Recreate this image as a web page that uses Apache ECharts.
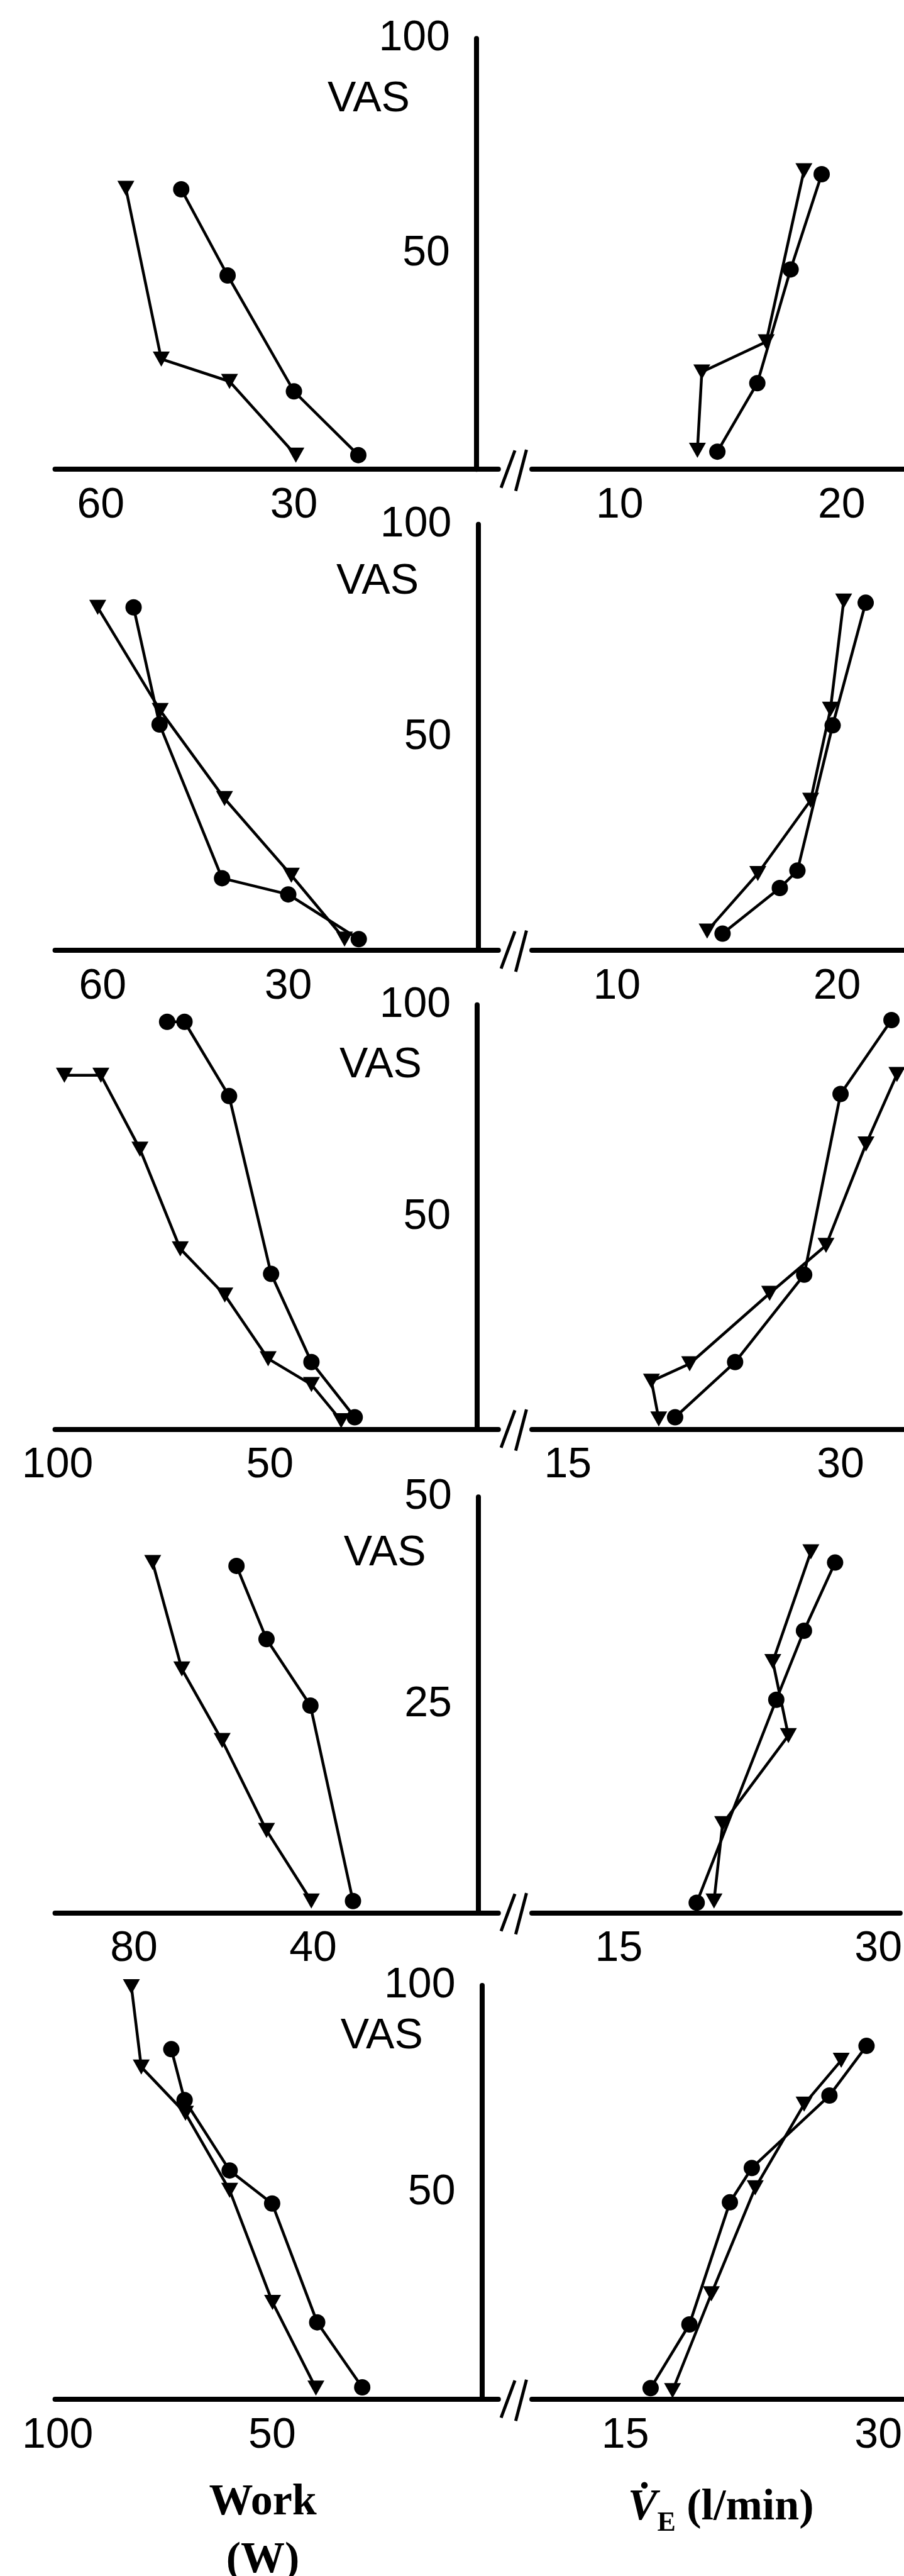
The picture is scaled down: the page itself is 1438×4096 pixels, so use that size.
<!DOCTYPE html>
<html>
<head>
<meta charset="utf-8">
<script src="https://cdn.jsdelivr.net/npm/echarts@6/dist/echarts.min.js"></script>
<style>
  html, body { margin: 0; padding: 0; background: #fff; }
  #chart { width: 1438px; height: 4096px; }
</style>
</head>
<body>
<div id="chart"></div>
<script>
// tick labels, panels top to bottom
const workTicks = [[30, 60], [30, 60], [50, 100], [40, 80], [50, 100]]
const veTicks = [[10, 20], [10, 20], [15, 30], [15, 30], [15, 30]]
const vasTicks = [[50, 100], [50, 100], [50, 100], [25, 50], [50, 100]]

// points are [value, VAS]; ▼ = triangles, ● = circles
const work1Tri = [[56.1, 65.2], [50.6, 25.6], [40.0, 20.4], [29.7, 3.3]]
const work1Circ = [[47.5, 65.0], [40.3, 45.0], [30.0, 18.1], [20.0, 3.3]]
const ve1Tri = [[18.3, 69.3], [16.6, 29.6], [13.7, 22.6], [13.5, 4.4]]
const ve1Circ = [[19.1, 68.5], [17.7, 46.4], [16.2, 20.0], [14.4, 4.1]]

const work2Tri = [[60.8, 80.5], [50.7, 56.3], [40.3, 35.6], [29.5, 17.6], [20.9, 2.6]]
const work2Circ = [[55.0, 80.5], [50.8, 53.0], [40.7, 16.9], [30.0, 13.1], [18.6, 2.6]]
const ve2Tri = [[20.3, 82.0], [19.7, 56.6], [18.8, 35.2], [16.4, 18.0], [14.1, 4.5]]
const ve2Circ = [[21.3, 81.6], [19.8, 52.8], [18.2, 18.7], [17.4, 14.6], [14.8, 3.9]]

const work3Tri = [[98.4, 83.4], [89.8, 83.4], [80.6, 66.0], [71.1, 42.5], [60.6, 31.6], [50.4, 16.6], [40.2, 10.5], [33.2, 2.0]]
const work3Circ = [[74.2, 96.0], [70.1, 96.0], [59.6, 78.5], [49.7, 36.6], [40.2, 15.8], [30.0, 2.8]]
const ve3Tri = [[20.0, 2.4], [19.6, 11.3], [21.7, 15.4], [26.1, 32.0], [29.2, 43.3], [31.4, 67.2], [33.1, 83.6]]
const ve3Circ = [[20.9, 2.8], [24.2, 15.8], [28.0, 36.4], [30.0, 79.0], [32.8, 96.4]]

const work4Tri = [[75.8, 42.1], [69.3, 29.3], [60.3, 20.7], [50.4, 9.9], [40.4, 1.4]]
const work4Circ = [[57.1, 41.7], [50.4, 32.9], [40.6, 24.9], [31.1, 1.4]]
const ve4Tri = [[26.1, 43.4], [23.9, 30.2], [24.8, 21.3], [21.0, 10.7], [20.5, 1.4]]
const ve4Circ = [[27.5, 42.1], [25.7, 33.9], [24.1, 25.6], [19.5, 1.2]]

const work5Tri = [[82.8, 99.7], [80.5, 80.3], [70.2, 69.1], [59.9, 50.5], [49.9, 23.4], [39.8, 2.7]]
const work5Circ = [[73.5, 84.6], [70.4, 72.3], [59.9, 55.3], [50.0, 47.3], [39.5, 18.6], [29.0, 2.9]]
const ve5Tri = [[27.8, 81.9], [25.6, 71.3], [22.7, 51.1], [20.1, 25.5], [17.8, 2.1]]
const ve5Circ = [[29.3, 85.4], [27.1, 73.4], [22.5, 55.9], [21.2, 47.6], [18.8, 18.1], [16.5, 2.7]]

const workTri = [work1Tri, work2Tri, work3Tri, work4Tri, work5Tri]
const workCirc = [work1Circ, work2Circ, work3Circ, work4Circ, work5Circ]
const veTri = [ve1Tri, ve2Tri, ve3Tri, ve4Tri, ve5Tri]
const veCirc = [ve1Circ, ve2Circ, ve3Circ, ve4Circ, ve5Circ]

// axis extents
const vasMax = [100, 100, 100, 50, 100]
const workRange = [[-1.75, 67.1], [-3.97, 67.7], [-3.84, 100.6], [-1.35, 97.6], [-2.73, 100.6]]
const veRange = [[6.04, 22.81], [6.14, 23.04], [13.02, 33.49], [9.97, 31.26], [9.46, 31.47]]

// layout, in pixels of the 2349 wide original
const S = 1438 / 2349
const LEFT_X0 = 143
const LEFT_X1 = 1295
const RIGHT_X0 = 1382
const RIGHT_X1 = 2349
const panelTop = [100, 1362, 2610, 3888, 5157]
const panelBottom = [1219, 2468, 3712, 4968, 6232]
const vasLineX = [1238, 1242, 1240, 1243, 1252]
const vasTextPos = [[958, 259], [981, 1511], [989, 2768], [1000, 4035], [992, 5289]]

const BLACK = '#000'
const sansLabel = { color: BLACK, fontFamily: 'Liberation Sans', fontSize: 68 }
const axisLine = { show: true, onZero: false, lineStyle: { color: BLACK, width: 8 } }

const grid = []
const xAxis = []
const yAxis = []
const series = []
const graphic = []

const lineSeries = (data, idx, mark) => ({
  type: 'line',
  xAxisIndex: idx,
  yAxisIndex: idx,
  data: data,
  symbol: mark,
  symbolSize: mark === 'circle' ? 26 : [27, 24],
  symbolRotate: mark === 'circle' ? 0 : 180,
  showAllSymbol: true,
  clip: false,
  silent: true,
  lineStyle: { color: BLACK, width: 4.5 },
  itemStyle: { color: BLACK }
})

for (let i = 0; i < 5; i++) {
  const top = panelTop[i] * S
  const height = (panelBottom[i] - panelTop[i]) * S
  const li = 2 * i
  const ri = 2 * i + 1

  grid.push({ left: LEFT_X0 * S, top: top, width: (LEFT_X1 - LEFT_X0) * S, height: height })
  grid.push({ left: RIGHT_X0 * S, top: top, width: (RIGHT_X1 - RIGHT_X0) * S, height: height })

  // work, running right to left
  xAxis.push({
    gridIndex: li,
    type: 'value',
    inverse: true,
    min: workRange[i][0],
    max: workRange[i][1],
    axisLine: axisLine,
    axisTick: { show: false },
    splitLine: { show: false },
    axisLabel: { ...sansLabel, customValues: workTicks[i], margin: 24 }
  })
  // ventilation
  xAxis.push({
    gridIndex: ri,
    type: 'value',
    min: veRange[i][0],
    max: veRange[i][1],
    axisLine: axisLine,
    axisTick: { show: false },
    splitLine: { show: false },
    axisLabel: { ...sansLabel, customValues: veTicks[i], margin: 24 }
  })

  // the VAS line sits between the two halves
  yAxis.push({
    gridIndex: li,
    type: 'value',
    min: 0,
    max: vasMax[i],
    position: 'left',
    offset: -(vasLineX[i] - LEFT_X0) * S,
    axisLine: axisLine,
    axisTick: { show: false },
    splitLine: { show: false },
    axisLabel: { ...sansLabel, customValues: vasTicks[i], margin: 42 }
  })
  yAxis.push({ gridIndex: ri, type: 'value', min: 0, max: vasMax[i], show: false })

  series.push(lineSeries(workTri[i], li, 'triangle'))
  series.push(lineSeries(workCirc[i], li, 'circle'))
  series.push(lineSeries(veTri[i], ri, 'triangle'))
  series.push(lineSeries(veCirc[i], ri, 'circle'))

  graphic.push({
    type: 'text',
    x: vasTextPos[i][0] * S,
    y: vasTextPos[i][1] * S,
    style: {
      text: 'VAS',
      fill: BLACK,
      font: '68px "Liberation Sans"',
      align: 'center',
      verticalAlign: 'middle',
      textAlign: 'center',
      textVerticalAlign: 'middle'
    }
  })

  // axis break marks
  const b = panelBottom[i]
  graphic.push({
    type: 'line',
    shape: { x1: 1302 * S, y1: (b + 48) * S, x2: 1338 * S, y2: (b - 49) * S },
    style: { stroke: BLACK, lineWidth: 5 }
  })
  graphic.push({
    type: 'line',
    shape: { x1: 1340 * S, y1: (b + 56) * S, x2: 1368 * S, y2: (b - 51) * S },
    style: { stroke: BLACK, lineWidth: 5 }
  })
}

const serifTitle = (text, x, y) => ({
  type: 'text',
  x: x * S,
  y: y * S,
  style: {
    text: text,
    fill: BLACK,
    font: 'bold 70px "Liberation Serif"',
    align: 'center',
    verticalAlign: 'middle',
    textAlign: 'center',
    textVerticalAlign: 'middle'
  }
})

graphic.push(serifTitle('Work', 683, 6502))
graphic.push(serifTitle('(W)', 683, 6652))
graphic.push({
  type: 'text',
  x: 1873 * S,
  y: 6515 * S,
  style: {
    text: '{v|V\u0307}{e|E}{u| (l/min)}',
    fill: BLACK,
    align: 'center',
    verticalAlign: 'middle',
    rich: {
      v: { fontFamily: 'Liberation Serif', fontWeight: 'bold', fontSize: 70, fontStyle: 'italic', lineHeight: 92, verticalAlign: 'middle' },
      e: { fontFamily: 'Liberation Serif', fontWeight: 'bold', fontSize: 44, lineHeight: 92, verticalAlign: 'bottom' },
      u: { fontFamily: 'Liberation Serif', fontWeight: 'bold', fontSize: 70, lineHeight: 92, verticalAlign: 'middle' }
    }
  }
})

const chart = echarts.init(document.getElementById('chart'))
chart.setOption({
  animation: false,
  backgroundColor: '#fff',
  grid: grid,
  xAxis: xAxis,
  yAxis: yAxis,
  series: series,
  graphic: graphic
})
</script>
</body>
</html>
